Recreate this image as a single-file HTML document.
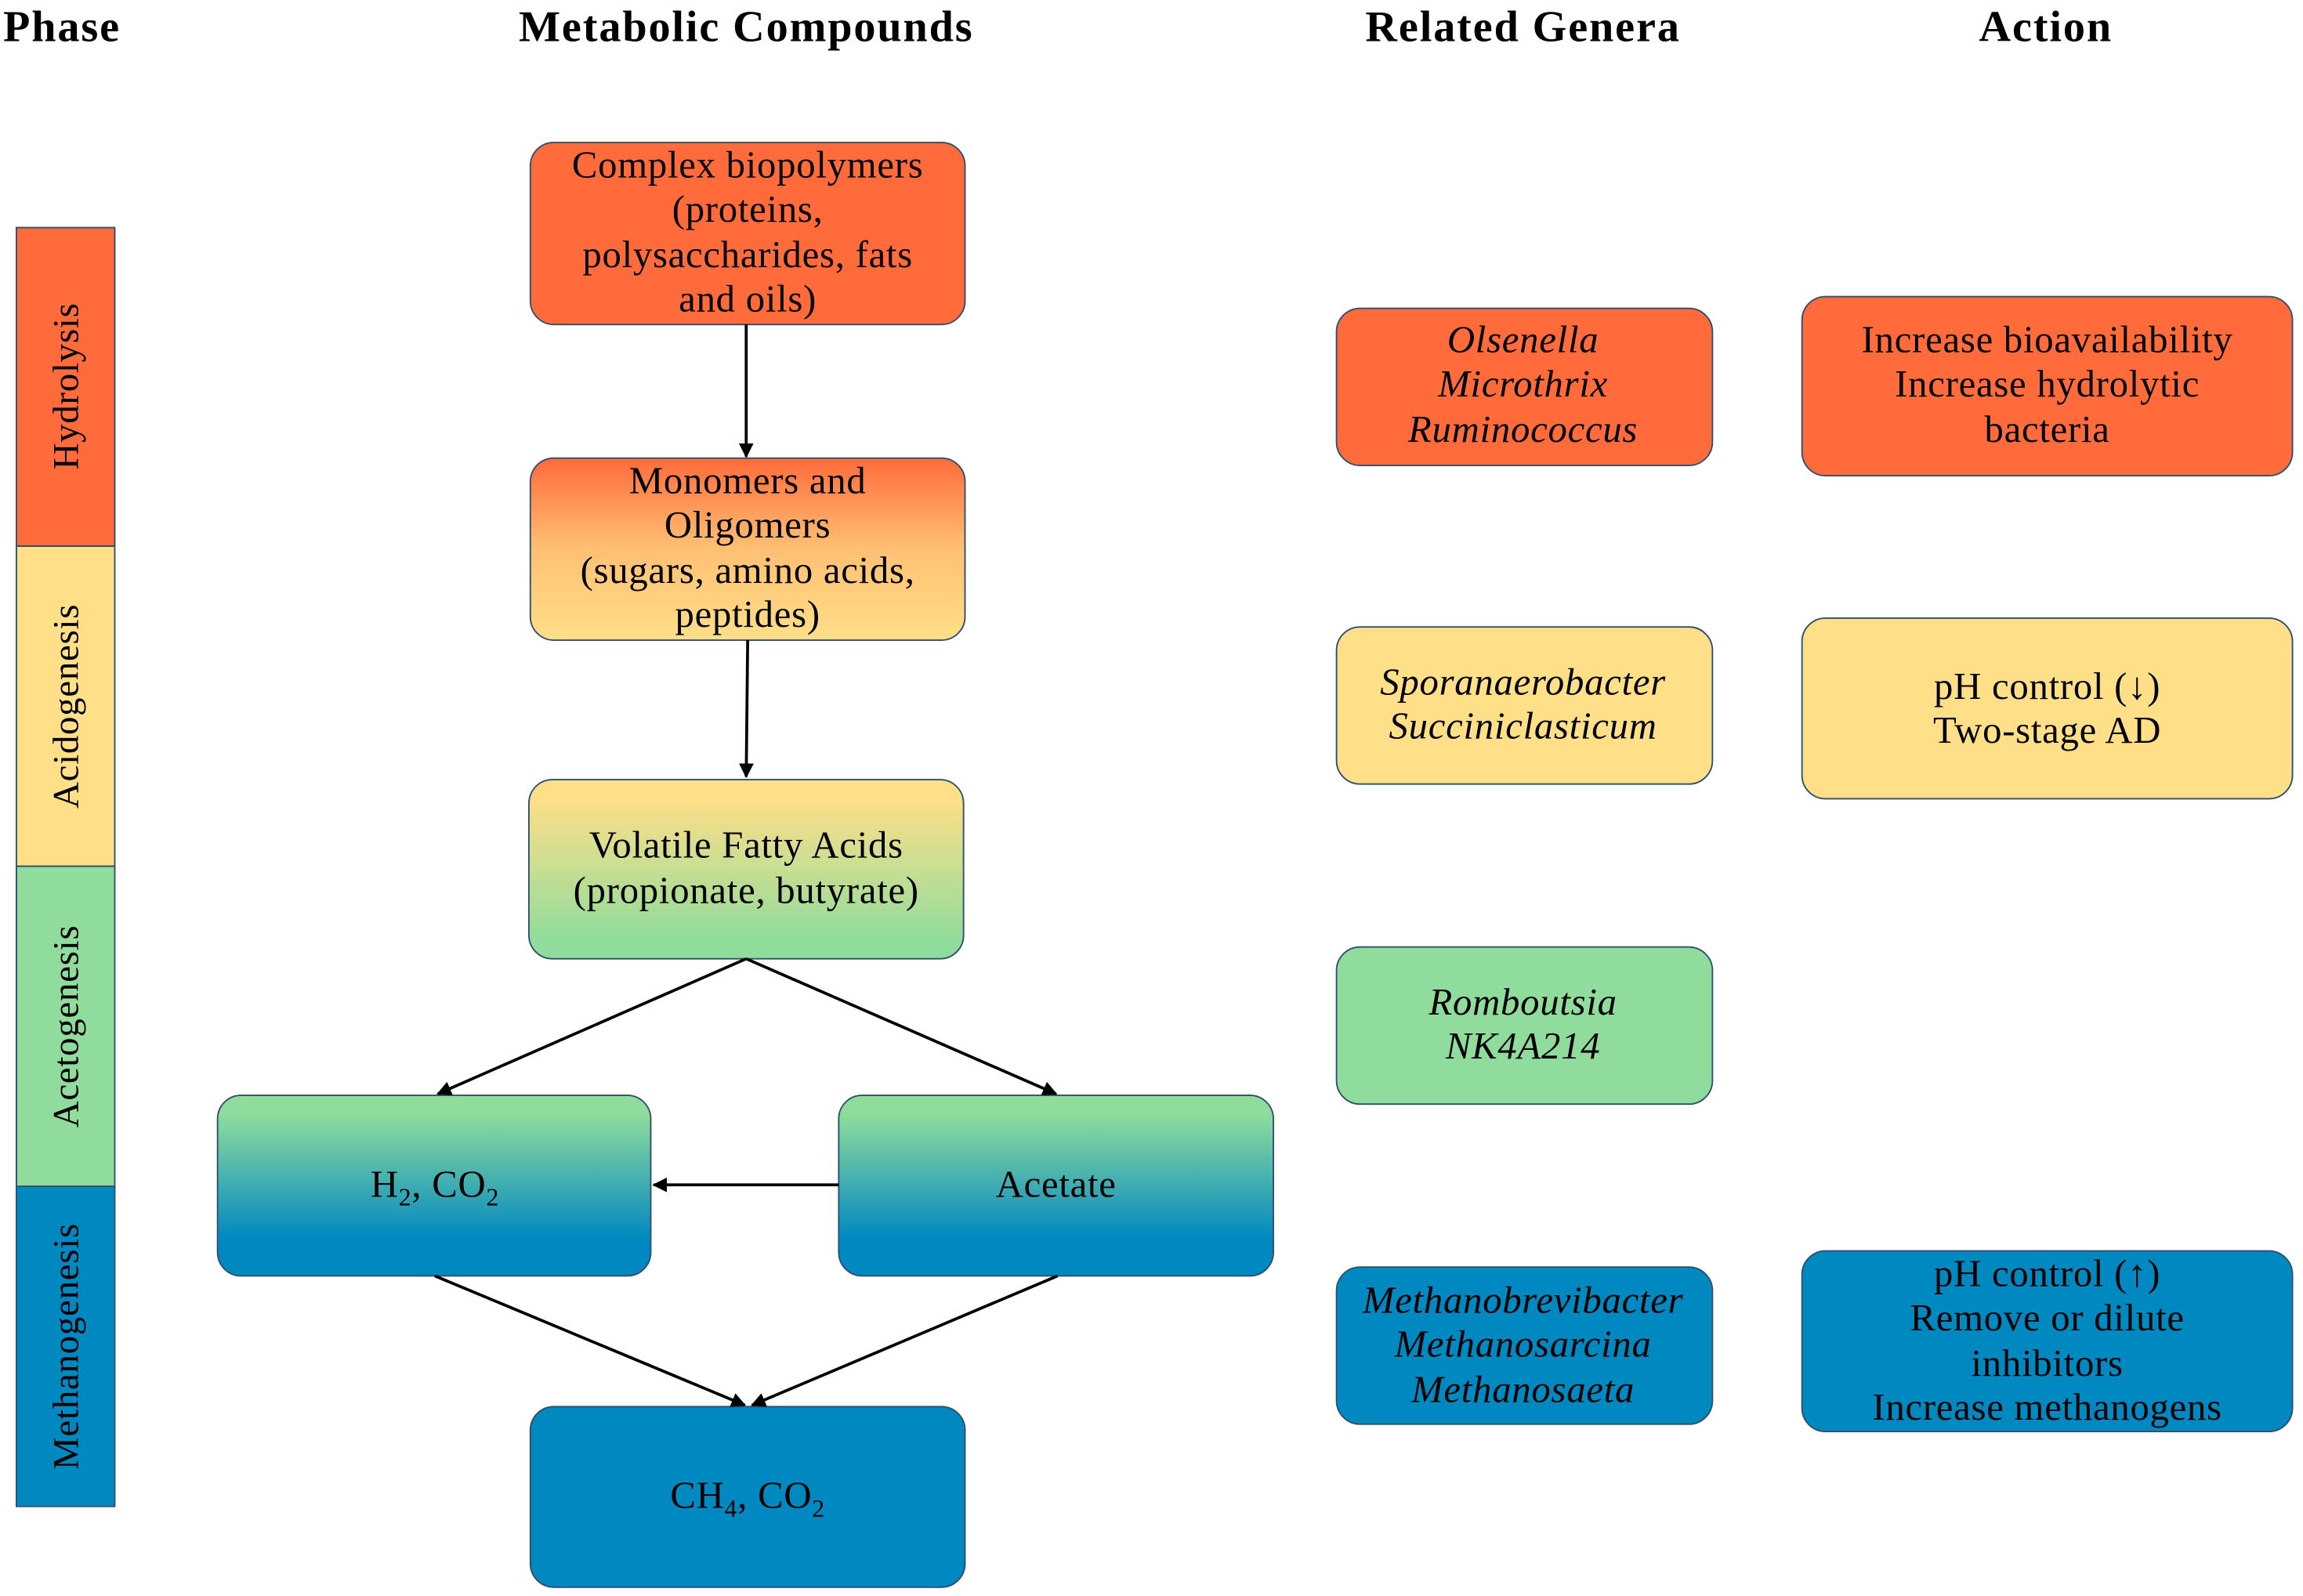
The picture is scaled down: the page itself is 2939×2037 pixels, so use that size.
<!DOCTYPE html>
<html><head><meta charset="utf-8"><style>body{margin:0;background:#fff}svg{display:block}</style></head>
<body>
<svg width="2939" height="2037" viewBox="0 0 1568 1087" xmlns="http://www.w3.org/2000/svg" font-family="Liberation Serif, serif">
<defs>
<linearGradient id="g1" x1="0" y1="0" x2="0" y2="1"><stop offset="0" stop-color="#FF6B3B"/><stop offset="0.5" stop-color="#FFC074"/><stop offset="1" stop-color="#FFDF88"/></linearGradient>
<linearGradient id="g2" x1="0" y1="0" x2="0" y2="1"><stop offset="0.1" stop-color="#FFDF88"/><stop offset="0.9" stop-color="#90DC9C"/></linearGradient>
<linearGradient id="g3" x1="0" y1="0" x2="0" y2="1"><stop offset="0.1" stop-color="#90DC9C"/><stop offset="0.8" stop-color="#0088C1"/></linearGradient>
<marker id="ar" markerWidth="10" markerHeight="10" refX="9" refY="5" orient="auto" markerUnits="userSpaceOnUse"><path d="M0,0 L10,5 L0,10 z" fill="#000"/></marker>
</defs>
<g font-weight="bold" font-size="30" letter-spacing="1" text-anchor="middle">
<text x="42" y="28">Phase</text><text x="508" y="28">Metabolic Compounds</text><text x="1037" y="28">Related Genera</text><text x="1393" y="28">Action</text>
</g>
<g stroke="#2F4F6F" stroke-width="1">
<rect x="11" y="155" width="67" height="217" fill="#FF6B3B"/>
<rect x="11" y="372" width="67" height="218" fill="#FFDF88"/>
<rect x="11" y="590" width="67" height="218" fill="#90DC9C"/>
<rect x="11" y="808" width="67" height="218" fill="#0088C1"/>
</g>
<g font-size="25" letter-spacing="0.4" text-anchor="middle">
<text transform="translate(53,263) rotate(-90)">Hydrolysis</text>
<text transform="translate(53,481) rotate(-90)">Acidogenesis</text>
<text transform="translate(53,699) rotate(-90)">Acetogenesis</text>
<text transform="translate(53,917) rotate(-90)">Methanogenesis</text>
</g>
<g stroke="#2F4F6F" stroke-width="1">
<rect x="361" y="97" width="296" height="124" rx="16" fill="#FF6B3B"/>
<rect x="361" y="312" width="296" height="124" rx="16" fill="url(#g1)"/>
<rect x="360" y="531" width="296" height="122" rx="16" fill="url(#g2)"/>
<rect x="148" y="746" width="295" height="123" rx="16" fill="url(#g3)"/>
<rect x="571" y="746" width="296" height="123" rx="16" fill="url(#g3)"/>
<rect x="361" y="958" width="296" height="123" rx="16" fill="#0088C1"/>
<rect x="910" y="210" width="256" height="107" rx="16" fill="#FF6B3B"/>
<rect x="910" y="427" width="256" height="107" rx="16" fill="#FFDF88"/>
<rect x="910" y="645" width="256" height="107" rx="16" fill="#90DC9C"/>
<rect x="910" y="863" width="256" height="107" rx="16" fill="#0088C1"/>
<rect x="1227" y="202" width="334" height="122" rx="16" fill="#FF6B3B"/>
<rect x="1227" y="421" width="334" height="123" rx="16" fill="#FFDF88"/>
<rect x="1227" y="852" width="334" height="123" rx="16" fill="#0088C1"/>
</g>
<g stroke="#000" stroke-width="2" marker-end="url(#ar)">
<line x1="508" y1="221" x2="508" y2="311"/>
<line x1="509" y1="436" x2="508" y2="529"/>
<line x1="508" y1="653" x2="298" y2="745"/>
<line x1="508" y1="653" x2="719" y2="745"/>
<line x1="571" y1="807" x2="445" y2="807"/>
<line x1="296" y1="869" x2="507" y2="957"/>
<line x1="720" y1="869" x2="512" y2="957"/>
</g>
<g font-size="26" letter-spacing="0.4" text-anchor="middle">
<text x="509" y="121">Complex biopolymers</text><text x="509" y="151">(proteins,</text><text x="509" y="182">polysaccharides, fats</text><text x="509" y="212">and oils)</text>
<text x="509" y="336">Monomers and</text><text x="509" y="366">Oligomers</text><text x="509" y="397">(sugars, amino acids,</text><text x="509" y="427">peptides)</text>
<text x="508" y="584">Volatile Fatty Acids</text><text x="508" y="615">(propionate, butyrate)</text>
<text x="296" y="815">H<tspan font-size="17" dy="6">2</tspan><tspan dy="-6">, CO</tspan><tspan font-size="17" dy="6">2</tspan></text>
<text x="719" y="815">Acetate</text>
<text x="509" y="1027">CH<tspan font-size="17" dy="6">4</tspan><tspan dy="-6">, CO</tspan><tspan font-size="17" dy="6">2</tspan></text>
<g font-style="italic">
<text x="1037" y="240">Olsenella</text><text x="1037" y="270">Microthrix</text><text x="1037" y="301">Ruminococcus</text>
<text x="1037" y="473">Sporanaerobacter</text><text x="1037" y="503">Succiniclasticum</text>
<text x="1037" y="691">Romboutsia</text><text x="1037" y="721">NK4A214</text>
<text x="1037" y="894">Methanobrevibacter</text><text x="1037" y="924">Methanosarcina</text><text x="1037" y="955">Methanosaeta</text>
</g>
<text x="1394" y="240">Increase bioavailability</text><text x="1394" y="270">Increase hydrolytic</text><text x="1394" y="301">bacteria</text>
<text x="1394" y="476">pH control (↓)</text><text x="1394" y="506">Two-stage AD</text>
<text x="1394" y="876">pH control (↑)</text><text x="1394" y="906">Remove or dilute</text><text x="1394" y="937">inhibitors</text><text x="1394" y="967">Increase methanogens</text>
</g>
</svg>
</body></html>
